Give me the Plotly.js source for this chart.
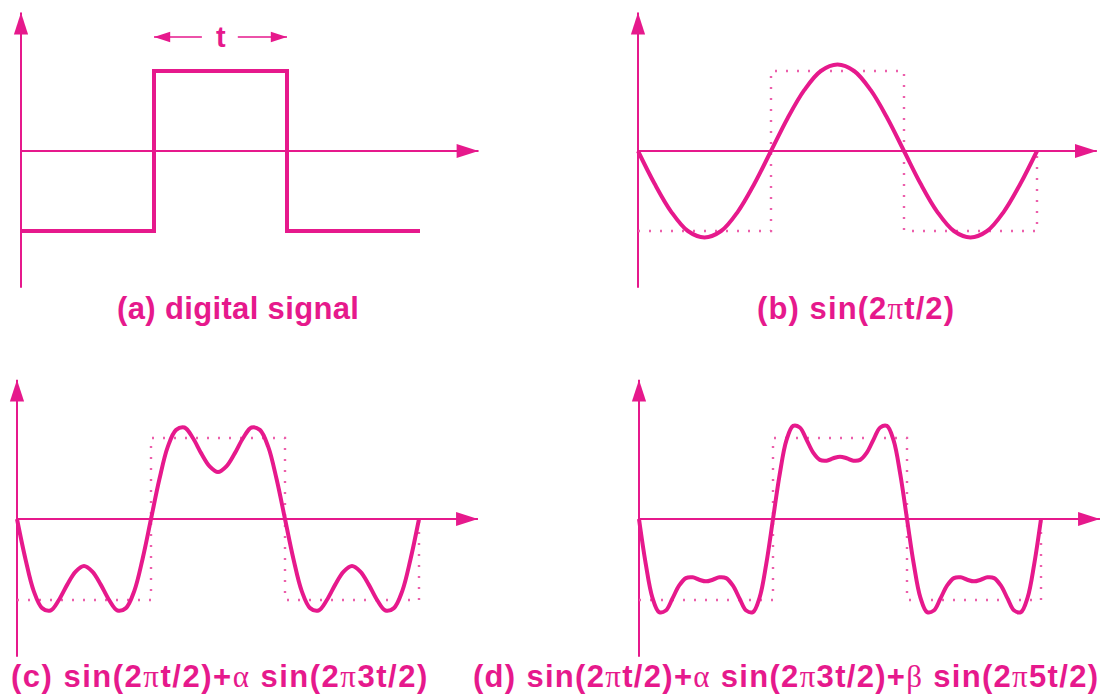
<!DOCTYPE html>
<html>
<head>
<meta charset="utf-8">
<script src="https://cdn.plot.ly/plotly-3.0.1.min.js"></script>
<style>html,body{margin:0;padding:0;background:#fff;}#chart{width:1105px;height:695px;}</style>
</head>
<body>
<div id="chart"></div>
<script>
// ---------- data (x in units of t, y in units of the square-wave level) ----------
// (a) digital signal
const sqX = [0, 1, 1, 2, 2, 3];
const sqY = [-1, -1, 1, 1, -1, -1];
// dotted reference square wave used in (b), (c), (d)
const refX = [0, 1, 1, 2, 2, 3, 3];
const refY = [-1, -1, 1, 1, -1, -1, 0];
// (b) sin(2πt/2)
const bX = [0,0.125,0.25,0.375,0.5,0.625,0.75,0.875,1,1.125,1.25,1.375,1.5,1.625,1.75,1.875,2,2.125,2.25,2.375,2.5,2.625,2.75,2.875,3];
const bY = [0,-0.41,-0.76,-1.0,-1.08,-1.0,-0.76,-0.41,0,0.41,0.76,1.0,1.08,1.0,0.76,0.41,0,-0.41,-0.76,-1.0,-1.08,-1.0,-0.76,-0.41,0];
// (c) sin(2πt/2)+α sin(2π3t/2)
const cX = [0,0.0625,0.125,0.1875,0.25,0.3125,0.375,0.4375,0.5,0.5625,0.625,0.6875,0.75,0.8125,0.875,0.9375,
            1,1.0625,1.125,1.1875,1.25,1.3125,1.375,1.4375,1.5,1.5625,1.625,1.6875,1.75,1.8125,1.875,1.9375,
            2,2.0625,2.125,2.1875,2.25,2.3125,2.375,2.4375,2.5,2.5625,2.625,2.6875,2.75,2.8125,2.875,2.9375,3];
const cY = [0,-0.49,-0.89,-1.10,-1.13,-1.00,-0.81,-0.65,-0.58,-0.65,-0.81,-1.00,-1.13,-1.10,-0.89,-0.49,
            0,0.49,0.89,1.10,1.13,1.00,0.81,0.65,0.58,0.65,0.81,1.00,1.13,1.10,0.89,0.49,
            0,-0.49,-0.89,-1.10,-1.13,-1.00,-0.81,-0.65,-0.58,-0.65,-0.81,-1.00,-1.13,-1.10,-0.89,-0.49,0];
// (d) sin(2πt/2)+α sin(2π3t/2)+β sin(2π5t/2)
const dX = [0,0.05,0.1,0.15,0.2,0.25,0.3,0.35,0.4,0.45,0.5,0.55,0.6,0.65,0.7,0.75,0.8,0.85,0.9,0.95,
            1,1.05,1.1,1.15,1.2,1.25,1.3,1.35,1.4,1.45,1.5,1.55,1.6,1.65,1.7,1.75,1.8,1.85,1.9,1.95,
            2,2.05,2.1,2.15,2.2,2.25,2.3,2.35,2.4,2.45,2.5,2.55,2.6,2.65,2.7,2.75,2.8,2.85,2.9,2.95,3];
const dY = [0,-0.55,-0.97,-1.15,-1.13,-0.98,-0.82,-0.73,-0.72,-0.75,-0.77,-0.75,-0.72,-0.73,-0.82,-0.98,-1.13,-1.15,-0.97,-0.55,
            0,0.55,0.97,1.15,1.13,0.98,0.82,0.73,0.72,0.75,0.77,0.75,0.72,0.73,0.82,0.98,1.13,1.15,0.97,0.55,
            0,-0.55,-0.97,-1.15,-1.13,-0.98,-0.82,-0.73,-0.72,-0.75,-0.77,-0.75,-0.72,-0.73,-0.82,-0.98,-1.13,-1.15,-0.97,-0.55,0];
// axis extents per panel: [x arrow tip, y bottom, y arrow tip]
const axisA = [3.44, -1.71, 1.73];
const axisB = [3.45, -1.71, 1.73];
const axisC = [3.44, -1.70, 1.72];
const axisD = [3.44, -1.70, 1.72];
// "t" width marker in (a): [left arrow tail, left tip, right tail, right tip, level]
const tMark = [1.36, 1, 1.63, 2, 1.425];
const tLabelX = 1.5;
// panel captions
const captions = [
  '(a) digital signal',
  '(b) sin(2πt/2)',
  '(c) sin(2πt/2)+α sin(2π3t/2)',
  '(d) sin(2πt/2)+α sin(2π3t/2)+β sin(2π5t/2)'
];

// ---------- styles / layout geometry ----------
const W = 1105, H = 695;
const C = '#e6198c';
const CDOT = '#ec5fab';
const FONT = 'Liberation Sans, Arial, Helvetica, sans-serif';
// panel pixel geometry: origin x, origin y, px per x unit, px per y unit
const geo = [
  {ox: 21,  oy: 151, ux: 133, uy: 80, dx: [0, 0.5], dy: [0.5, 1]},
  {ox: 638, oy: 151, ux: 133, uy: 80, dx: [0.5, 1], dy: [0.5, 1]},
  {ox: 17,  oy: 519, ux: 134, uy: 81, dx: [0, 0.5], dy: [0, 0.5]},
  {ox: 639, oy: 519, ux: 134, uy: 81, dx: [0.5, 1], dy: [0, 0.5]}
];
const capPos = [[238, 308], [856, 308], [220, 676], [786, 676]];
const capSpacing = [0.35, 1.1, 1.5, 1.3];

function greek(s) {
  return s.replace(/([παβ])/g, "<span style=\"font-family:'Liberation Serif',serif;font-weight:normal\">$1</span>");
}

const traces = [];
const axes = [axisA, axisB, axisC, axisD];
const curves = [[sqX, sqY], [bX, bY], [cX, cY], [dX, dY]];

const layout = {
  width: W, height: H,
  margin: {l: 0, r: 0, t: 0, b: 0},
  paper_bgcolor: '#ffffff', plot_bgcolor: 'rgba(0,0,0,0)',
  showlegend: false,
  annotations: [],
  font: {family: FONT, color: C}
};

geo.forEach((g, i) => {
  const xn = i === 0 ? 'x' : 'x' + (i + 1);
  const yn = i === 0 ? 'y' : 'y' + (i + 1);
  const xk = i === 0 ? 'xaxis' : 'xaxis' + (i + 1);
  const yk = i === 0 ? 'yaxis' : 'yaxis' + (i + 1);
  const px0 = g.dx[0] * W, px1 = g.dx[1] * W;
  const py0 = (1 - g.dy[1]) * H, py1 = (1 - g.dy[0]) * H;
  layout[xk] = {domain: g.dx, range: [(px0 - g.ox) / g.ux, (px1 - g.ox) / g.ux], visible: false, fixedrange: true};
  layout[yk] = {domain: g.dy, range: [-(py1 - g.oy) / g.uy, (g.oy - py0) / g.uy], visible: false, fixedrange: true};

  const ax = axes[i];
  // axis lines
  traces.push({x: [0, ax[0], null, 0, 0], y: [0, 0, null, ax[1], ax[2]], xaxis: xn, yaxis: yn,
    mode: 'lines', line: {color: C, width: 2}, hoverinfo: 'skip', cliponaxis: false});
  // arrow heads
  traces.push({x: [ax[0], 0], y: [0, ax[2]], xaxis: xn, yaxis: yn, mode: 'markers',
    marker: {symbol: 'arrow', size: 23, angle: [90, 0], color: C, line: {width: 0}}, hoverinfo: 'skip', cliponaxis: false});
  // dotted reference square wave
  if (i > 0) {
    traces.push({x: refX, y: refY, xaxis: xn, yaxis: yn, mode: 'lines',
      line: {color: CDOT, width: 2.4, dash: '2px,9px'}, hoverinfo: 'skip'});
  }
  // the signal
  const cv = curves[i];
  traces.push({x: cv[0], y: cv[1], xaxis: xn, yaxis: yn, mode: 'lines',
    line: {color: C, width: 4, shape: i === 0 ? 'linear' : 'spline', smoothing: 1}, hoverinfo: 'skip', cliponaxis: false});

  // caption
  layout.annotations.push({xref: 'paper', yref: 'paper', x: capPos[i][0] / W, y: 1 - capPos[i][1] / H,
    xanchor: 'center', yanchor: 'middle', showarrow: false,
    text: '<span style="letter-spacing:' + capSpacing[i] + 'px"><b>' + greek(captions[i]) + '</b></span>',
    font: {family: FONT, size: 31, color: C}});
});

// "t" width marker in panel (a)
traces.push({x: [tMark[0], tMark[1], null, tMark[2], tMark[3]], y: [tMark[4], tMark[4], null, tMark[4], tMark[4]],
  xaxis: 'x', yaxis: 'y', mode: 'lines', line: {color: C, width: 1.5}, hoverinfo: 'skip'});
traces.push({x: [tMark[1], tMark[3]], y: [tMark[4], tMark[4]], xaxis: 'x', yaxis: 'y', mode: 'markers',
  marker: {symbol: 'arrow', size: 17, angle: [270, 90], color: C, line: {width: 0}}, hoverinfo: 'skip'});
layout.annotations.push({xref: 'x', yref: 'y', x: tLabelX, y: tMark[4], xanchor: 'center', yanchor: 'middle',
  showarrow: false, text: '<b>t</b>', font: {family: FONT, size: 29, color: C}});

Plotly.newPlot('chart', traces, layout, {staticPlot: true, displayModeBar: false});
</script>
</body>
</html>
